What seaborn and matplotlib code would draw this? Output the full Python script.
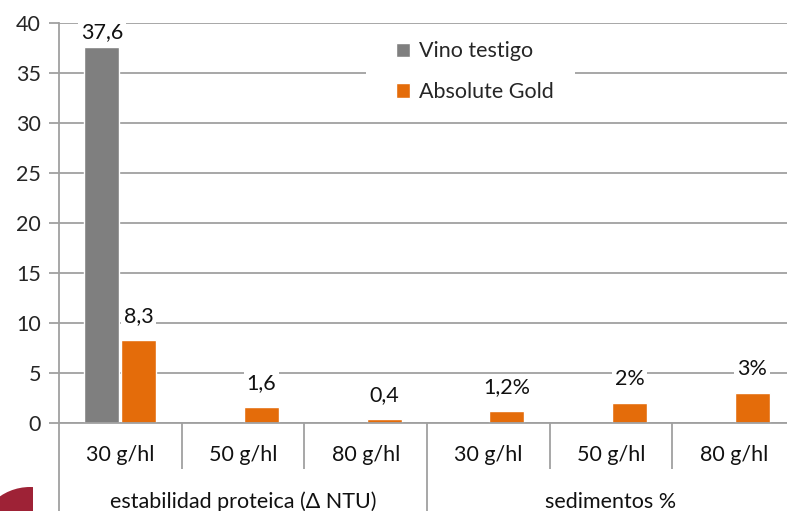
import numpy as np
import pandas as pd
import matplotlib
matplotlib.use("Agg")
import matplotlib.pyplot as plt
import matplotlib.transforms as mtransforms
from matplotlib.patches import Ellipse, Rectangle
import seaborn as sns

# Datos
grupos = ["estabilidad proteica (Δ NTU)", "sedimentos %"]
dosis = ["30 g/hl", "50 g/hl", "80 g/hl"]
series = ["Vino testigo", "Absolute Gold"]
vino_testigo = [37.6, np.nan, np.nan, np.nan, np.nan, np.nan]
absolute_gold = [8.3, 1.6, 0.4, 1.2, 2.0, 3.0]
etiq_testigo = ["37,6", "", "", "", "", ""]
etiq_gold = ["8,3", "1,6", "0,4", "1,2%", "2%", "3%"]
y_ticks = [0, 5, 10, 15, 20, 25, 30, 35, 40]

GRIS = "#7f7f7f"
NARANJA = "#e46c0a"
LINEA = "#a0a0a0"
FS = 15.5

cats = [g + "|" + d for g in grupos for d in dosis]
df = pd.DataFrame({
    "cat": cats * 2,
    "serie": [series[0]] * 6 + [series[1]] * 6,
    "valor": vino_testigo + absolute_gold,
})

sns.set_theme(style="white")
plt.rcParams["font.family"] = ["Lato", "DejaVu Sans"]

fig = plt.figure(figsize=(7.87, 5.11), dpi=100)
W, H = 787, 511
ax = fig.add_axes([59 / W, 88 / H, (795 - 59) / W, 400 / H])

sns.barplot(data=df, x="cat", y="valor", hue="serie", order=cats,
            hue_order=series, palette=[GRIS, NARANJA], width=0.6, gap=0.05,
            saturation=1, ax=ax, legend=True)

ax.set_ylim(0, 40)
ax.set_xlim(-0.5, 5.5)
ax.set_yticks(y_ticks)
ax.set_yticklabels([str(t) for t in y_ticks], fontsize=FS)
ax.set_xticks([])
ax.set_xlabel("")
ax.set_ylabel("")
ax.yaxis.grid(True, color=LINEA, linewidth=1.3)
ax.set_axisbelow(True)
ax.tick_params(axis="y", length=7, color=LINEA, width=1.3, pad=6, left=True)
for s in ["top", "right"]:
    ax.spines[s].set_visible(False)
ax.spines["left"].set_color(LINEA)
ax.spines["left"].set_linewidth(1.3)
ax.spines["bottom"].set_color(LINEA)
ax.spines["bottom"].set_linewidth(1.3)

# etiquetas de datos
todas = [etiq_testigo, etiq_gold]
for cont, etiq in zip(ax.containers, todas):
    for bar in cont:
        h = bar.get_height()
        if np.isnan(h):
            continue
        xc = bar.get_x() + bar.get_width() / 2
        i = int(round(xc))
        txt = etiq[i]
        if not txt:
            continue
        ax.text(xc, min(h + 2.4, 39.1), txt, ha="center", va="center",
                fontsize=FS, color="#111111",
                bbox=dict(facecolor="white", edgecolor="none", pad=2))

# eje x de dos niveles
tr = mtransforms.blended_transform_factory(ax.transData, ax.transAxes)
for k in range(7):
    x = k - 0.5
    bajo = -0.23 if k % 3 == 0 else -0.115
    ax.plot([x, x], [0, bajo], transform=tr, color=LINEA, lw=1.3,
            clip_on=False, solid_capstyle="butt")
for i, c in enumerate(cats):
    ax.text(i, -0.08, c.split("|")[1], transform=tr, ha="center",
            va="center", fontsize=FS, color="#111111")
for j, g in enumerate(grupos):
    ax.text(3 * j + 1, -0.198, g, transform=tr, ha="center", va="center",
            fontsize=FS, color="#111111")

# fondo blanco del área de leyenda (corta la línea de 35)
ax.add_patch(Rectangle(((366 - 59) / 736, 1 - (110 - 23) / 400),
                       (575 - 366) / 736, (110 - 26) / 400,
                       transform=ax.transAxes, facecolor="white",
                       edgecolor="none", zorder=1.5))

# leyenda
leg = ax.legend(loc="upper left", bbox_to_anchor=((390 - 59) / 736, 0.97),
                frameon=False, fontsize=FS, handlelength=0.65,
                handleheight=0.65, labelspacing=0.95, handletextpad=0.4,
                borderpad=0.3, borderaxespad=0)

# fragmento de logo en la esquina
clip = Rectangle((0, 0), 33 / W, 1, transform=fig.transFigure)
logo = Ellipse((30 / W, (H - 540) / H), 106 / W, 106 / H,
               transform=fig.transFigure, facecolor="#9e2236",
               edgecolor="none")
fig.patches.append(logo)
logo.set_clip_path(clip)

fig.savefig("out.png", dpi=100)
